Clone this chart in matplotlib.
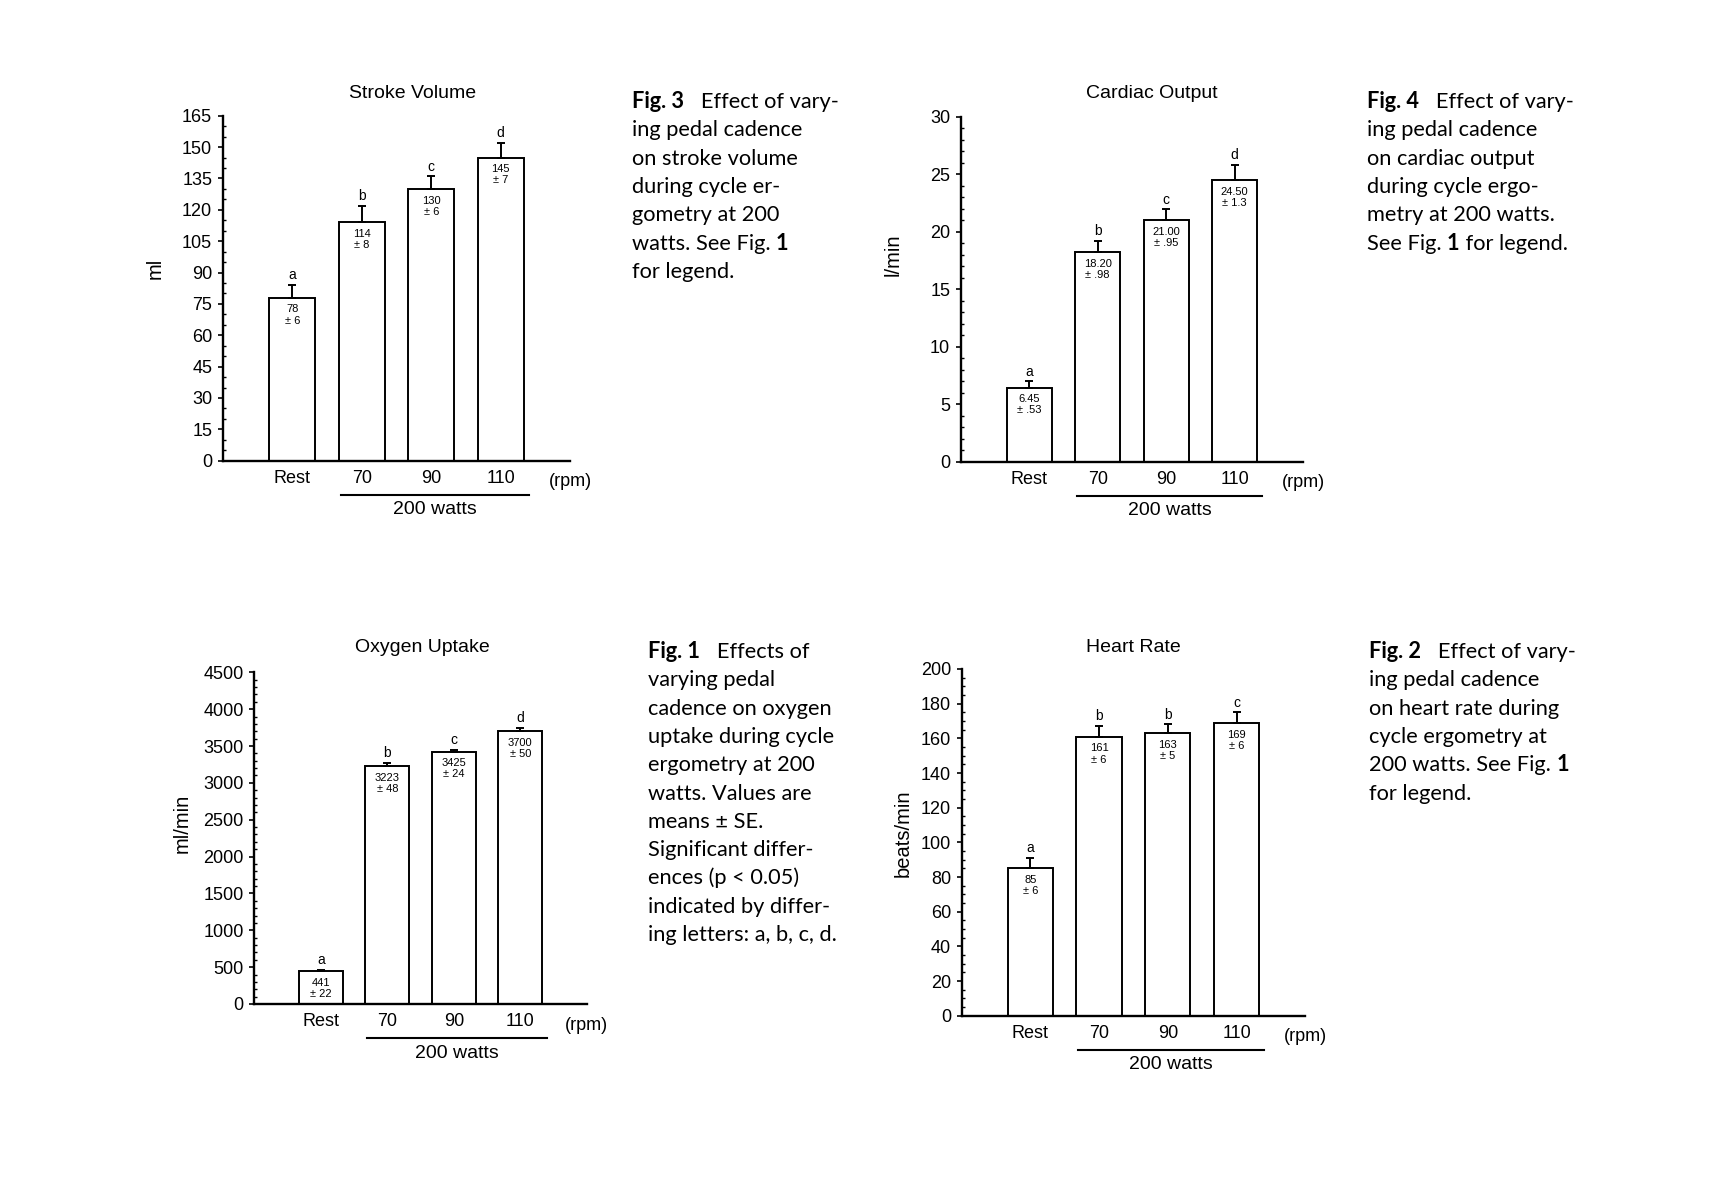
import numpy as np
import matplotlib.pyplot as plt
from matplotlib.ticker import MultipleLocator
from matplotlib.transforms import offset_copy

plt.rcParams['font.family'] = 'Liberation Sans'

# data
categories = ["Rest", "70", "90", "110"]

sv_mean = [78, 114, 130, 145]
sv_se = [6, 8, 6, 7]
sv_letters = ["a", "b", "c", "d"]

co_mean = [6.45, 18.20, 21.00, 24.50]
co_se = [0.53, 0.98, 0.95, 1.3]
co_mean_txt = ["6.45", "18.20", "21.00", "24.50"]
co_se_txt = [".53", ".98", ".95", "1.3"]
co_letters = ["a", "b", "c", "d"]

vo2_mean = [441, 3223, 3425, 3700]
vo2_se = [22, 48, 24, 50]
vo2_letters = ["a", "b", "c", "d"]

hr_mean = [85, 161, 163, 169]
hr_se = [6, 6, 5, 6]
hr_letters = ["a", "b", "b", "c"]

W, H = 1716, 1190
fig = plt.figure(figsize=(W / 100, H / 100), dpi=100)
fig.patch.set_facecolor('white')


def add_axes(left, top, right, bottom):
    return fig.add_axes([left / W, 1 - bottom / H, (right - left) / W, (bottom - top) / H])


def panel(ax, means, ses, letters, mean_txt, se_txt, title, title_xy,
          ylabel, ylabel_xy, ymax, major, minor):
    x = np.arange(len(categories))
    ax.bar(x, means, width=0.66, color='white', edgecolor='black', linewidth=1.4, zorder=2)
    ax.errorbar(x, means, yerr=[np.zeros(len(ses)), ses], fmt='none', ecolor='black',
                elinewidth=1.4, capsize=3, capthick=1.4, zorder=3)
    for xi, m, s, lt, mt, st in zip(x, means, ses, letters, mean_txt, se_txt):
        ax.annotate(mt, (xi, m), xytext=(0, -8.5), textcoords='offset points',
                    ha='center', va='center', fontsize=8)
        ax.annotate('± ' + st, (xi, m), xytext=(0, -16.5), textcoords='offset points',
                    ha='center', va='center', fontsize=8)
        ax.annotate(lt, (xi, m + s), xytext=(0, 7), textcoords='offset points',
                    ha='center', va='center', fontsize=10)

    ax.set_xlim(-1, 4)
    ax.set_ylim(0, ymax)
    ax.set_xticks(x)
    ax.set_xticklabels(categories)
    ax.yaxis.set_major_locator(MultipleLocator(major))
    ax.yaxis.set_minor_locator(MultipleLocator(minor))
    ax.tick_params(axis='x', length=0, pad=6.5, labelsize=13)
    ax.tick_params(axis='y', which='major', length=3.6, width=1.2, pad=4, labelsize=13)
    ax.tick_params(axis='y', which='minor', direction='in', length=2.2, width=1)
    for side in ['top', 'right']:
        ax.spines[side].set_visible(False)
    for side in ['left', 'bottom']:
        ax.spines[side].set_linewidth(1.7)
    ax.set_facecolor('none')

    # 200 watts bracket and rpm unit under the axis
    xt = ax.get_xaxis_transform()
    ax.plot([0.7, 3.4], [0, 0], color='black', lw=1.5, clip_on=False,
            transform=offset_copy(xt, fig=fig, y=-34, units='dots'))
    ax.text(2.05, 0, '200 watts', ha='center', va='center', fontsize=14,
            transform=offset_copy(xt, fig=fig, y=-49, units='dots'))
    ax.text(4, 0, '(rpm)', ha='center', va='center', fontsize=13,
            transform=offset_copy(xt, fig=fig, y=-21, units='dots'))

    fig.text(title_xy[0] / W, 1 - title_xy[1] / H, title, ha='center', va='center', fontsize=14)
    fig.text(ylabel_xy[0] / W, 1 - ylabel_xy[1] / H, ylabel, ha='center', va='center',
             rotation=90, fontsize=14.5)


ax1 = add_axes(222.7, 115.7, 570.2, 460.7)
panel(ax1, sv_mean, sv_se, sv_letters, [str(v) for v in sv_mean], [str(v) for v in sv_se],
      'Stroke Volume', (413, 93), 'ml', (155, 268), 165, 15, 5)

ax2 = add_axes(960.7, 116.7, 1303.2, 461.7)
panel(ax2, co_mean, co_se, co_letters, co_mean_txt, co_se_txt,
      'Cardiac Output', (1152, 93), 'l/min', (893, 255), 30, 5, 1)

ax3 = add_axes(254.3, 672.3, 586.8, 1004)
panel(ax3, vo2_mean, vo2_se, vo2_letters, [str(v) for v in vo2_mean], [str(v) for v in vo2_se],
      'Oxygen Uptake', (422, 647), 'ml/min', (182, 823), 4500, 500, 100)

ax4 = add_axes(961.7, 669, 1305.2, 1015.7)
panel(ax4, hr_mean, hr_se, hr_letters, [str(v) for v in hr_mean], [str(v) for v in hr_se],
      'Heart Rate', (1133, 647), 'beats/min', (903, 833), 200, 20, 5)

# figure captions, bold parts drawn as separate pieces
cap_font = 'Lato'
cap_size = 15.7
line_gap = 28.3
renderer = fig.canvas.get_renderer()


def caption(x0, y0, lines):
    for i, line in enumerate(lines):
        cx = x0
        for txt, bold in line:
            t = fig.text(cx / W, 1 - (y0 + i * line_gap) / H, txt, ha='left', va='baseline',
                         fontsize=cap_size, family=cap_font,
                         fontweight='bold' if bold else 'normal', color='black')
            cx += t.get_window_extent(renderer=renderer).width


caption(631.7, 108, [
    [("Fig. 3", True), ("   Effect of vary-", False)],
    [("ing pedal cadence", False)],
    [("on stroke volume", False)],
    [("during cycle er-", False)],
    [("gometry at 200", False)],
    [("watts. See Fig. ", False), ("1", True)],
    [("for legend.", False)],
])

caption(1366.7, 108, [
    [("Fig. 4", True), ("   Effect of vary-", False)],
    [("ing pedal cadence", False)],
    [("on cardiac output", False)],
    [("during cycle ergo-", False)],
    [("metry at 200 watts.", False)],
    [("See Fig. ", False), ("1", True), (" for legend.", False)],
])

caption(647.5, 658, [
    [("Fig. 1", True), ("   Effects of", False)],
    [("varying pedal", False)],
    [("cadence on oxygen", False)],
    [("uptake during cycle", False)],
    [("ergometry at 200", False)],
    [("watts. Values are", False)],
    [("means ± SE.", False)],
    [("Significant differ-", False)],
    [("ences (p < 0.05)", False)],
    [("indicated by differ-", False)],
    [("ing letters: a, b, c, d.", False)],
])

caption(1369, 658, [
    [("Fig. 2", True), ("   Effect of vary-", False)],
    [("ing pedal cadence", False)],
    [("on heart rate during", False)],
    [("cycle ergometry at", False)],
    [("200 watts. See Fig. ", False), ("1", True)],
    [("for legend.", False)],
])

fig.savefig('out.png', dpi=100, facecolor='white')
